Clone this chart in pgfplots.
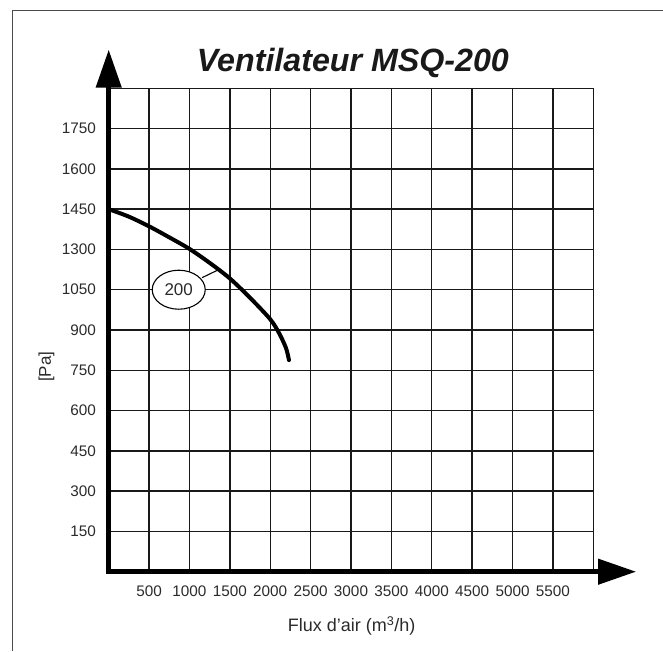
\documentclass[border=0pt]{standalone}
\usepackage{fontspec}
\setmainfont{Liberation Sans}
\usepackage{pgfplots}
\pgfplotsset{compat=1.18}
\usetikzlibrary{arrows.meta,shapes.geometric}
\definecolor{txt}{HTML}{2A2A2A}
\begin{document}
\begin{tikzpicture}
\path[use as bounding box] (-108.7pt,-79.3pt) rectangle (554.3pt,571.7pt);
\draw[gray!60!black, line width=0.8pt] (-96pt,-79.3pt) -- (-96pt,561pt) -- (554.3pt,561pt);
\begin{axis}[
  at={(0pt,0pt)}, anchor=south west,
  scale only axis, width=484.6pt, height=483.4pt,
  xmin=0, xmax=6000, ymin=0, ymax=1800,
  xtick={500,1000,...,5500},
  xticklabels={500,1000,1500,2000,2500,3000,3500,4000,4500,5000,5500},
  ytick={150,300,...,1650},
  yticklabels={150,300,450,600,750,900,1050,1300,1450,1600,1750},
  major tick length=0pt,
  grid=major,
  major grid style={black!90, line width=1.35pt},
  axis line style={black!90, line width=1.35pt},
  xticklabel style={font=\fontsize{15.3}{18}\selectfont, text=txt, anchor=center, yshift=-20pt, inner sep=0pt},
  yticklabel style={font=\fontsize{15.3}{18}\selectfont, text=txt, anchor=east, inner sep=0pt, xshift=-12.7pt},
  xlabel={Flux d’air (m\textsuperscript{3}/h)},
  xlabel style={at={(axis description cs:0.5014,-0.1241)}, anchor=base, font=\fontsize{18}{22}\selectfont, text=txt, inner sep=0pt},
  ylabel={[Pa]},
  ylabel style={at={(axis description cs:-0.1284,0.4241)}, anchor=center, rotate=0, font=\fontsize{17}{20}\selectfont, text=txt, inner sep=0pt},
  title={Ventilateur MSQ-200},
  title style={at={(axis description cs:0.504,1.0228)}, anchor=base, font=\fontsize{32.2}{36}\selectfont\bfseries\itshape, text=black!90, inner sep=0pt},
  clip=false,
]
\addplot[black, line width=4pt, smooth, line cap=round] coordinates {
(0,1350) (250,1322) (500,1286) (750,1245) (1000,1202) (1250,1150)
(1500,1092) (1750,1020) (2000,940) (2110,888) (2195,833) (2232,788)
};
\draw[black, line width=1.1pt] (axis cs:1157,1095) -- (axis cs:1363,1125);
\node[draw=black, line width=1.1pt, fill=white, ellipse, minimum width=53pt, minimum height=39pt, inner sep=0pt, font=\fontsize{17}{20}\selectfont, text=txt] at (axis cs:867,1050) {200};
\draw[black, line width=4.5pt, line join=miter, {Triangle[length=38pt,width=25pt]}-{Triangle[length=38pt,width=25pt]}] (axis cs:0,1943.7) -- (axis cs:0,0) -- (axis cs:6529,0);
\end{axis}
\end{tikzpicture}
\end{document}
